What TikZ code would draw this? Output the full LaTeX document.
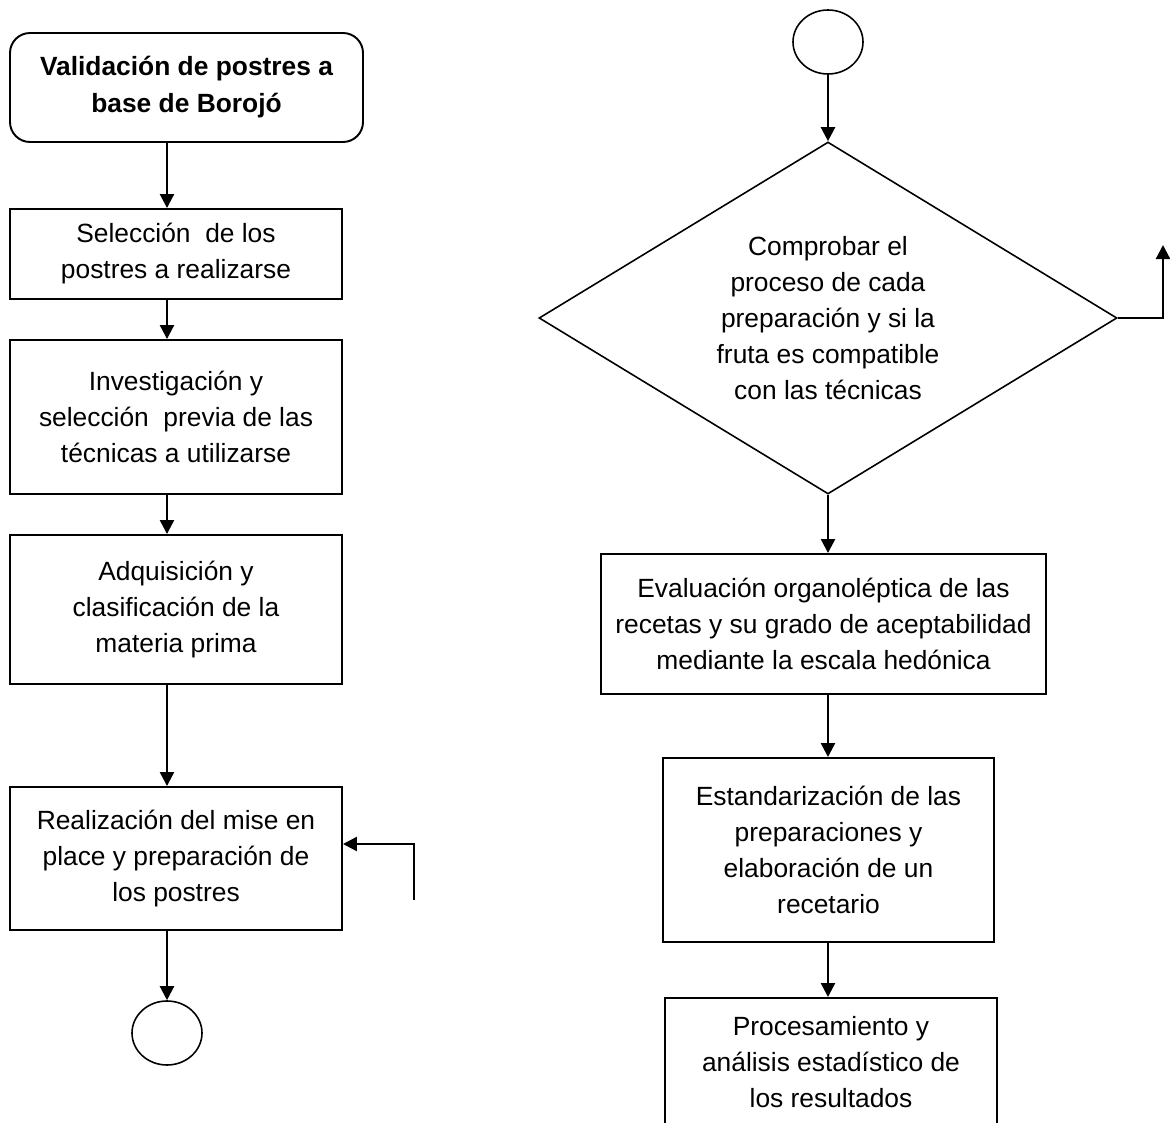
\documentclass[tikz,border=0pt]{standalone}
\usepackage{fontspec}
\setmainfont{Liberation Sans}
\usetikzlibrary{shapes.geometric, arrows.meta, positioning, calc}

\begin{document}
\begin{tikzpicture}[
        x=0.2mm, y=-0.2mm,
        every node/.style={font=\fontsize{15}{20.5}\selectfont},
        stepbox/.style={rectangle, draw=black, line width=1.1pt, align=center, inner sep=2pt},
        startbox/.style={stepbox, rounded corners=4mm, font=\fontsize{15}{21}\selectfont\bfseries},
        decision/.style={diamond, draw=black, line width=0.9pt, align=center, inner sep=0pt, aspect=1.64},
        endcirc/.style={ellipse, draw=black, line width=0.9pt, minimum width=1.4cm, minimum height=1.28cm, inner sep=0pt},
        flow/.style={-{Triangle[length=2.8mm, width=2.8mm]}, line width=1.3pt}
    ]
        \clip (0,0) rectangle (1170,1123);

        % left column
        \node[startbox, minimum width=7.06cm, minimum height=2.18cm] (start) at (186.5,87.5) {Validación de postres a\\base de Borojó};
        \node[stepbox, minimum width=6.64cm, minimum height=1.8cm] (select) at (176,254) {Selección\ \ de los\\postres a realizarse};
        \node[stepbox, minimum width=6.64cm, minimum height=3.08cm] (research) at (176,417) {Investigación y\\selección\ \ previa de las\\técnicas a utilizarse};
        \node[stepbox, minimum width=6.64cm, minimum height=2.98cm] (buy) at (176,609.5) {Adquisición y\\clasificación de la\\materia prima};
        \node[stepbox, minimum width=6.64cm, minimum height=2.86cm] (prep) at (176,858.5) {Realización del mise en\\place y preparación de\\los postres};
        \node[endcirc] (endL) at (167,1033) {};
        \coordinate (backL) at (414,900);
        \coordinate (backLtop) at (414,844);

        % right column
        \node[endcirc] (topR) at (828,42) {};
        \node[decision, minimum width=11.56cm, minimum height=7.04cm] (check) at (828,318) {Comprobar el\\proceso de cada\\preparación y si la\\fruta es compatible\\con las técnicas};
        \node[stepbox, minimum width=8.9cm, minimum height=2.8cm] (taste) at (823.5,624) {Evaluación organoléptica de las\\recetas y su grado de aceptabilidad\\mediante la escala hedónica};
        \node[stepbox, minimum width=6.62cm, minimum height=3.68cm] (standard) at (828.5,850) {Estandarización de las\\preparaciones y\\elaboración de un\\recetario};
        \node[stepbox, minimum width=6.64cm, minimum height=2.56cm] (stats) at (831,1062) {Procesamiento y\\análisis estadístico de\\los resultados};
        \coordinate (backR) at (1163,245);

        \draw[flow] (start.south -| endL) -- (select.north -| endL);
        \draw[flow] (select.south -| endL) -- (research.north -| endL);
        \draw[flow] (research.south -| endL) -- (buy.north -| endL);
        \draw[flow] (buy.south -| endL) -- (prep.north -| endL);
        \draw[flow] (prep.south -| endL) -- (endL.north);
        \draw[flow] (backL) -- (backLtop) -- (backLtop -| prep.east);

        \draw[flow] (topR.south) -- (check.north);
        \draw[flow] (check.south) -- (taste.north -| check.south);
        \draw[flow] (taste.south -| check.south) -- (standard.north -| check.south);
        \draw[flow] (standard.south -| check.south) -- (stats.north -| check.south);
        \draw[flow] (check.east) -| (backR);
    \end{tikzpicture}
\end{document}
